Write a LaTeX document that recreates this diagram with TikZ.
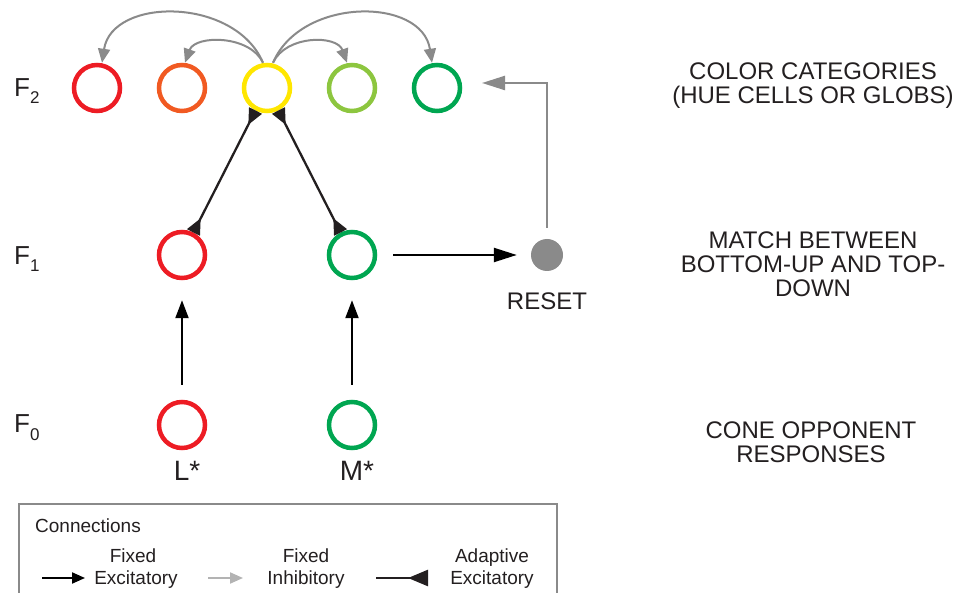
\documentclass[tikz,border=0pt]{standalone}
\usepackage{fontspec}
\setmainfont{Liberation Sans}
\usetikzlibrary{arrows.meta}
\definecolor{cred}{HTML}{ED1C24}
\definecolor{corange}{HTML}{F15A22}
\definecolor{cyellow}{HTML}{FFE600}
\definecolor{clgreen}{HTML}{8DC63F}
\definecolor{cgreen}{HTML}{00A651}
\definecolor{tgray}{HTML}{231F20}
\definecolor{agray}{HTML}{8A8A8A}
\definecolor{lgray}{HTML}{B3B3B3}
\begin{document}
\begin{tikzpicture}[x=1pt,y=-1pt,
  cell/.style={circle,draw=#1,line width=4.5pt,minimum size=46pt,inner sep=0pt},
  txt/.style={font=\fontsize{24}{24}\selectfont,text=tgray,inner sep=0pt,align=center},
  lab/.style={font=\fontsize{26}{26}\selectfont,text=tgray,inner sep=0pt},
  leg/.style={font=\fontsize{19}{22}\selectfont,text=tgray,inner sep=0pt,align=center},
  exc/.style={draw=black,line width=2.3pt,-{Triangle[length=18pt,width=13pt]}},
  excbig/.style={draw=black,line width=2.3pt,-{Triangle[length=23pt,width=14pt]}},
  inhbig/.style={draw=agray,line width=2.3pt,-{Triangle[length=23pt,width=14pt]}},
  lat/.style={draw=agray,line width=2pt,-{Triangle[length=14pt,width=12pt]}},
  adapt/.style={draw=tgray,line width=2.3pt,{Triangle[reversed,length=16pt,width=14pt]}-{Triangle[reversed,length=16pt,width=14pt]}},
]
\useasboundingbox (0,0) rectangle (956,593);

% F2 row
\node[cell=cred]    (r2) at (97,88) {};
\node[cell=corange] (o2) at (182,88) {};
\node[cell=cyellow] (y2) at (267,88) {};
\node[cell=clgreen] (l2) at (352,88) {};
\node[cell=cgreen]  (g2) at (437,88) {};
% F1 row
\node[cell=cred]   (r1) at (182,255) {};
\node[cell=cgreen] (g1) at (352,255) {};
% F0 row
\node[cell=cred]   (r0) at (182,425) {};
\node[cell=cgreen] (g0) at (352,425) {};
% reset
\node[circle,fill=agray,minimum size=32pt,inner sep=0pt] (reset) at (547,255) {};

% level labels
\node[lab,anchor=base west] (f2) at (14,97) {F\raisebox{-7pt}{\fontsize{17}{17}\selectfont 2}};
\node[lab,anchor=base west] (f1) at (14,265) {F\raisebox{-7pt}{\fontsize{17}{17}\selectfont 1}};
\node[lab,anchor=base west] (f0) at (14,433) {F\raisebox{-7pt}{\fontsize{17}{17}\selectfont 0}};

% input labels
\node[lab,font=\fontsize{28}{28}\selectfont,anchor=base] (lstar) at (187,480) {L*};
\node[lab,font=\fontsize{28}{28}\selectfont,anchor=base] (mstar) at (357,480) {M*};
\node[txt,anchor=base] (resetlab) at (547,310) {RESET};

% right descriptions
\node[txt,anchor=north] (d2) at (813,63) {COLOR CATEGORIES\\(HUE CELLS OR GLOBS)};
\node[txt,anchor=north] (d1) at (813,232) {MATCH BETWEEN\\BOTTOM-UP AND TOP-\\DOWN};
\node[txt,anchor=north] (d0) at (811,422) {CONE OPPONENT\\RESPONSES};

% lateral arcs
\draw[lat] ([xshift=-4pt]y2.north) .. controls +(-28,-66) and +(10,-66) .. ([xshift=5pt]r2.north);
\draw[lat] ([xshift=-4pt]y2.north) .. controls +(-13,-28) and +(10,-28) .. ([xshift=3pt]o2.north);
\draw[lat] ([xshift=6pt]y2.north) .. controls +(13,-28) and +(-10,-28) .. ([xshift=-5pt]l2.north);
\draw[lat] ([xshift=6pt]y2.north) .. controls +(28,-66) and +(-10,-66) .. ([xshift=-5pt]g2.north);

% adaptive pathways
\draw[adapt] (r1) -- (y2);
\draw[adapt] (g1) -- (y2);

% bottom-up
\draw[exc,shorten <=15pt,shorten >=20pt] (r0) -- (r1);
\draw[exc,shorten <=15pt,shorten >=20pt] (g0) -- (g1);

% reset
\draw[excbig,shorten <=16pt,shorten >=14pt] (g1) -- (reset);
\coordinate (rtarget) at (482,83);
\draw[inhbig] ([yshift=11pt]reset.north) |- (rtarget);

% legend
\draw[draw=agray,line width=1.3pt] (19,600) -- (19,504) -- (557,504) -- (557,600);
\node[leg,anchor=base west] (conn) at (35,532) {Connections};
\coordinate (la1) at (42,578);  \coordinate (lb1) at (85,578);
\coordinate (la2) at (208,578); \coordinate (lb2) at (243,578);
\coordinate (la3) at (376,578); \coordinate (lb3) at (428,578);
\draw[draw=black,line width=2pt,-{Triangle[length=13pt,width=11pt]}] (la1) -- (lb1);
\draw[draw=lgray,line width=2pt,-{Triangle[length=13pt,width=11pt]}] (la2) -- (lb2);
\draw[draw=tgray,line width=2.5pt,-{Triangle[reversed,length=20pt,width=16pt]}] (la3) -- (lb3);
\node[leg,anchor=base] (t1a) at (133,562) {Fixed};
\node[leg,anchor=base] (t1b) at (136,584) {Excitatory};
\node[leg,anchor=base] (t2a) at (306,562) {Fixed};
\node[leg,anchor=base] (t2b) at (306,584) {Inhibitory};
\node[leg,anchor=base] (t3a) at (492,562) {Adaptive};
\node[leg,anchor=base] (t3b) at (492,584) {Excitatory};
\end{tikzpicture}
\end{document}
